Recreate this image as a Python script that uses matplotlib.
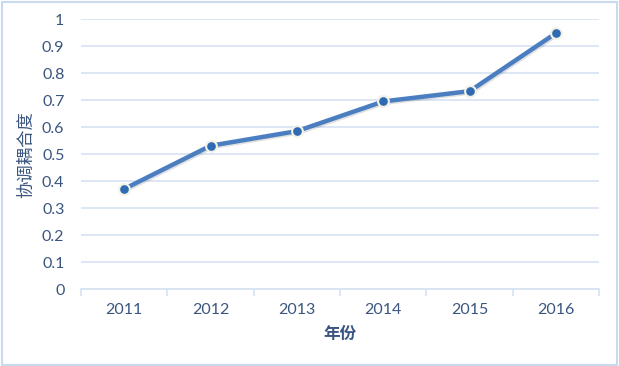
import matplotlib
matplotlib.use("Agg")
import matplotlib.pyplot as plt
import matplotlib.patheffects as pe
from matplotlib.patches import Rectangle

years = ["2011", "2012", "2013", "2014", "2015", "2016"]
values = [0.371, 0.531, 0.585, 0.695, 0.733, 0.948]
y_ticks = [0, 0.1, 0.2, 0.3, 0.4, 0.5, 0.6, 0.7, 0.8, 0.9, 1]
y_labels = ["0", "0.1", "0.2", "0.3", "0.4", "0.5", "0.6", "0.7", "0.8", "0.9", "1"]

text_color = "#3A5580"
grid_color = "#D6E2F2"
line_color = "#4A7EC0"

fig = plt.figure(figsize=(6.19, 3.66), dpi=100)
ax = fig.add_axes([0.131, 0.21, 0.837, 0.738])

# outer border of the chart area
fig.patches.append(Rectangle((0.003, 0.004), 0.994, 0.99, transform=fig.transFigure,
                             fill=False, edgecolor="#C9D9EE", linewidth=1.5))

x = range(len(years))
ax.plot(x, values, color=line_color, linewidth=3.2, zorder=3,
        path_effects=[pe.SimpleLineShadow(offset=(1, -1), alpha=0.12), pe.Normal()])
ax.scatter(x, values, s=60, color="#2E6BB3", edgecolors="#F4F1E6", linewidths=1.5, zorder=4)

ax.set_xlim(-0.5, len(years) - 0.5)
ax.set_ylim(0, 1)
ax.set_yticks(y_ticks)
ax.set_yticklabels(y_labels)
ax.set_xticks(list(x))
ax.set_xticklabels(years)

ax.grid(axis="y", color=grid_color, linewidth=1.2)
ax.set_axisbelow(True)
for s in ["top", "right", "left"]:
    ax.spines[s].set_visible(False)
ax.spines["bottom"].set_color(grid_color)
ax.spines["bottom"].set_linewidth(1.2)

# minor ticks at category boundaries
ax.set_xticks([i - 0.5 for i in range(len(years) + 1)], minor=True)
ax.tick_params(axis="x", which="minor", length=5, color=grid_color, width=1.2)
ax.tick_params(axis="x", which="major", length=0, pad=10)
ax.tick_params(axis="y", length=0, pad=12)

for lab in ax.get_xticklabels() + ax.get_yticklabels():
    lab.set_fontfamily("Lato")
    lab.set_fontsize(11.5)
    lab.set_color(text_color)

ax.set_xlabel("年份", fontfamily=["Noto Sans CJK SC", "DejaVu Sans"], fontsize=12,
              fontweight="bold", color=text_color, labelpad=6)
ax.set_ylabel("协调耦合度", fontfamily=["Noto Sans CJK SC", "DejaVu Sans"], fontsize=12.5,
              color=text_color, labelpad=5)

fig.savefig("out.png", dpi=100)
